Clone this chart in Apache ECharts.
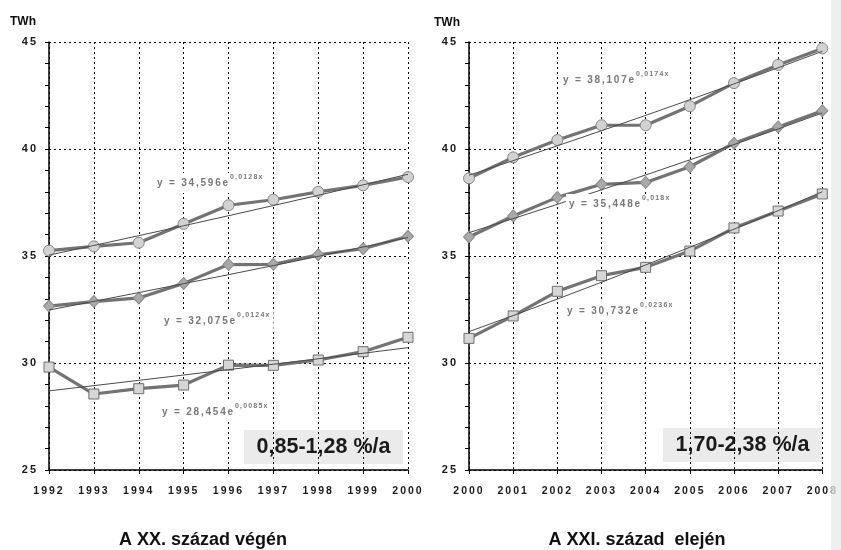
<!DOCTYPE html>
<html>
<head>
<meta charset="utf-8">
<script src="https://cdn.jsdelivr.net/npm/echarts@6/dist/echarts.min.js"></script>
<style>
  html, body { margin: 0; padding: 0; background: #fff; }
  #chart { width: 841px; height: 550px; }
</style>
</head>
<body>
<div id="chart"></div>
<script>
// Tracked (letter-spaced) text: a font family list containing "trackN" gets N px letter spacing.
(function () {
  const desc = Object.getOwnPropertyDescriptor(CanvasRenderingContext2D.prototype, 'font');
  Object.defineProperty(CanvasRenderingContext2D.prototype, 'font', {
    configurable: true,
    get() { return desc.get.call(this); },
    set(v) {
      desc.set.call(this, v);
      const m = /track(\d+(?:_\d+)?)/.exec(v);
      if ('letterSpacing' in this) {
        this.letterSpacing = m ? m[1].replace('_', '.') + 'px' : '0px';
      }
    }
  });
})();

// ---- data ----
const yearsOld = ['1992', '1993', '1994', '1995', '1996', '1997', '1998', '1999', '2000'];
const oldCircle  = [35.25, 35.45, 35.62, 36.50, 37.37, 37.63, 38.00, 38.30, 38.69];
const oldDiamond = [32.66, 32.87, 33.04, 33.72, 34.60, 34.61, 35.06, 35.34, 35.92];
const oldSquare  = [29.81, 28.55, 28.80, 28.97, 29.90, 29.89, 30.14, 30.53, 31.20];

const yearsNew = ['2000', '2001', '2002', '2003', '2004', '2005', '2006', '2007', '2008'];
const newCircle  = [38.63, 39.61, 40.42, 41.11, 41.11, 42.00, 43.08, 43.93, 44.70];
const newDiamond = [35.89, 36.87, 37.74, 38.35, 38.44, 39.17, 40.27, 41.03, 41.79];
const newSquare  = [31.15, 32.20, 33.35, 34.08, 34.47, 35.23, 36.31, 37.10, 37.90];

// exponential trend coefficients y = a * e^(b x), x = 1..9 (circle, diamond, square)
const oldTrendA = [34.596, 32.075, 28.454];
const oldTrendB = [0.0128, 0.0124, 0.0085];
const newTrendA = [38.107, 35.448, 30.732];
const newTrendB = [0.0174, 0.018, 0.0236];

const yTicks = [25, 30, 35, 40, 45];
const rateOld = '0,85-1,28 %/a';
const rateNew = '1,70-2,38 %/a';
const titleOld = 'A XX. század végén';
const titleNew = 'A XXI. század  elején';
const unit = 'TWh';

// ---- helpers ----
const FONT = 'Liberation Sans';
const trend = (a, b, n) => Array.from({ length: n }, (_, i) => +(a * Math.exp(b * (i + 1))).toFixed(3));
const comma = v => String(v).replace('.', ',');

const dotted = { type: [2, 3], color: '#000', width: 1 };

function xAxis(gridIndex, cats) {
  return {
    type: 'category', gridIndex, data: cats, boundaryGap: false,
    axisLine: { lineStyle: { color: '#000', width: 1.5 } },
    axisTick: { show: true, length: 4, lineStyle: { color: '#000' } },
    axisLabel: { color: '#1a1a1a', fontWeight: 'bold', fontSize: 10.5, fontFamily: FONT + ', track2', margin: 15 },
    splitLine: { show: true, lineStyle: dotted }
  };
}
function yAxis(gridIndex) {
  return {
    type: 'value', gridIndex, min: yTicks[0], max: yTicks[yTicks.length - 1], interval: 5,
    axisLine: { show: true, lineStyle: { color: '#000', width: 1.5 } },
    axisTick: { show: true, length: 4, lineStyle: { color: '#000' } },
    minorTick: { show: true, splitNumber: 5, length: 4, lineStyle: { color: '#000' } },
    axisLabel: { color: '#1a1a1a', fontWeight: 'bold', fontSize: 11, fontFamily: FONT + ', track2', margin: 11 },
    splitLine: { show: true, lineStyle: dotted }
  };
}

const markers = {
  circle:  { symbol: 'circle',  symbolSize: 11, itemStyle: { color: '#d2d2d2', borderColor: '#858585', borderWidth: 1 } },
  diamond: { symbol: 'diamond', symbolSize: [11, 12], itemStyle: { color: '#a9a9a9', borderColor: '#8a8a8a', borderWidth: 1 } },
  square:  { symbol: 'rect',    symbolSize: 10, itemStyle: { color: '#d6d6d6', borderColor: '#6e6e6e', borderWidth: 1 } }
};

function dataSeries(idx, values, kind) {
  return Object.assign({
    type: 'line', xAxisIndex: idx, yAxisIndex: idx, data: values, z: 2,
    lineStyle: { color: '#737373', width: 3.2 }, animation: false
  }, markers[kind]);
}
function trendSeries(idx, values) {
  return {
    type: 'line', xAxisIndex: idx, yAxisIndex: idx, data: values, z: 3,
    showSymbol: false, symbol: 'none', lineStyle: { color: '#4a4a4a', width: 1 }, animation: false
  };
}

function eqLabel(x, y, a, b) {
  return {
    type: 'text', left: x, top: y, z: 20,
    style: {
      text: '{m|y = ' + comma(a) + 'e}{s|' + comma(b) + 'x}',
      backgroundColor: '#fff', padding: [0, 3, 0, 3],
      rich: {
        m: { fontSize: 10, fontWeight: 'bold', fontFamily: FONT + ', track1_8', fill: '#777', lineHeight: 20 },
        s: { fontSize: 7, fontWeight: 'bold', fontFamily: FONT + ', track1_2', fill: '#777', verticalAlign: 'top' }
      }
    }
  };
}
function rateBox(x, y, text) {
  return {
    type: 'group', left: x, top: y, z: 20,
    children: [
      { type: 'rect', shape: { x: 0, y: 0, width: 159, height: 34 }, style: { fill: '#ebebeb' } },
      { type: 'text', x: 79.5, y: 17, style: { text, fill: '#1a1a1a', font: 'bold 21.5px ' + FONT, align: 'center', verticalAlign: 'middle' } }
    ]
  };
}
function plainText(x, y, text, font, align) {
  return { type: 'text', x, y, z: 20, style: { text, font, fill: '#111', align: align || 'left', verticalAlign: 'middle' } };
}

const n = yearsOld.length;
const option = {
  backgroundColor: '#fff',
  animation: false,
  grid: [
    { left: 49, right: 433, top: 42, bottom: 80 },
    { left: 469, right: 12, top: 42, bottom: 80 }
  ],
  xAxis: [xAxis(0, yearsOld), xAxis(1, yearsNew)],
  yAxis: [yAxis(0), yAxis(1)],
  series: [
    dataSeries(0, oldCircle, 'circle'),
    dataSeries(0, oldDiamond, 'diamond'),
    dataSeries(0, oldSquare, 'square'),
    trendSeries(0, trend(oldTrendA[0], oldTrendB[0], n)),
    trendSeries(0, trend(oldTrendA[1], oldTrendB[1], n)),
    trendSeries(0, trend(oldTrendA[2], oldTrendB[2], n)),
    dataSeries(1, newCircle, 'circle'),
    dataSeries(1, newDiamond, 'diamond'),
    dataSeries(1, newSquare, 'square'),
    trendSeries(1, trend(newTrendA[0], newTrendB[0], n)),
    trendSeries(1, trend(newTrendA[1], newTrendB[1], n)),
    trendSeries(1, trend(newTrendA[2], newTrendB[2], n))
  ],
  graphic: [
    eqLabel(154, 173, oldTrendA[0], oldTrendB[0]),
    eqLabel(161, 311, oldTrendA[1], oldTrendB[1]),
    eqLabel(159, 402, oldTrendA[2], oldTrendB[2]),
    eqLabel(560, 70, newTrendA[0], newTrendB[0]),
    eqLabel(566, 194, newTrendA[1], newTrendB[1]),
    eqLabel(564, 301, newTrendA[2], newTrendB[2]),
    rateBox(244, 430, rateOld),
    rateBox(663, 428, rateNew),
    plainText(10, 22, unit, 'bold 12px ' + FONT),
    plainText(434, 23, unit, 'bold 12px ' + FONT),
    plainText(203, 540, titleOld, 'bold 18px ' + FONT, 'center'),
    plainText(637, 540, titleNew, 'bold 18px ' + FONT, 'center'),
    { type: 'rect', z: 30, shape: { x: 831, y: 0, width: 10, height: 550 },
      style: { fill: 'rgba(234,234,234,0.75)' } }
  ]
};

const chart = echarts.init(document.getElementById('chart'), null, { renderer: 'canvas' });
chart.setOption(option);
</script>
</body>
</html>
